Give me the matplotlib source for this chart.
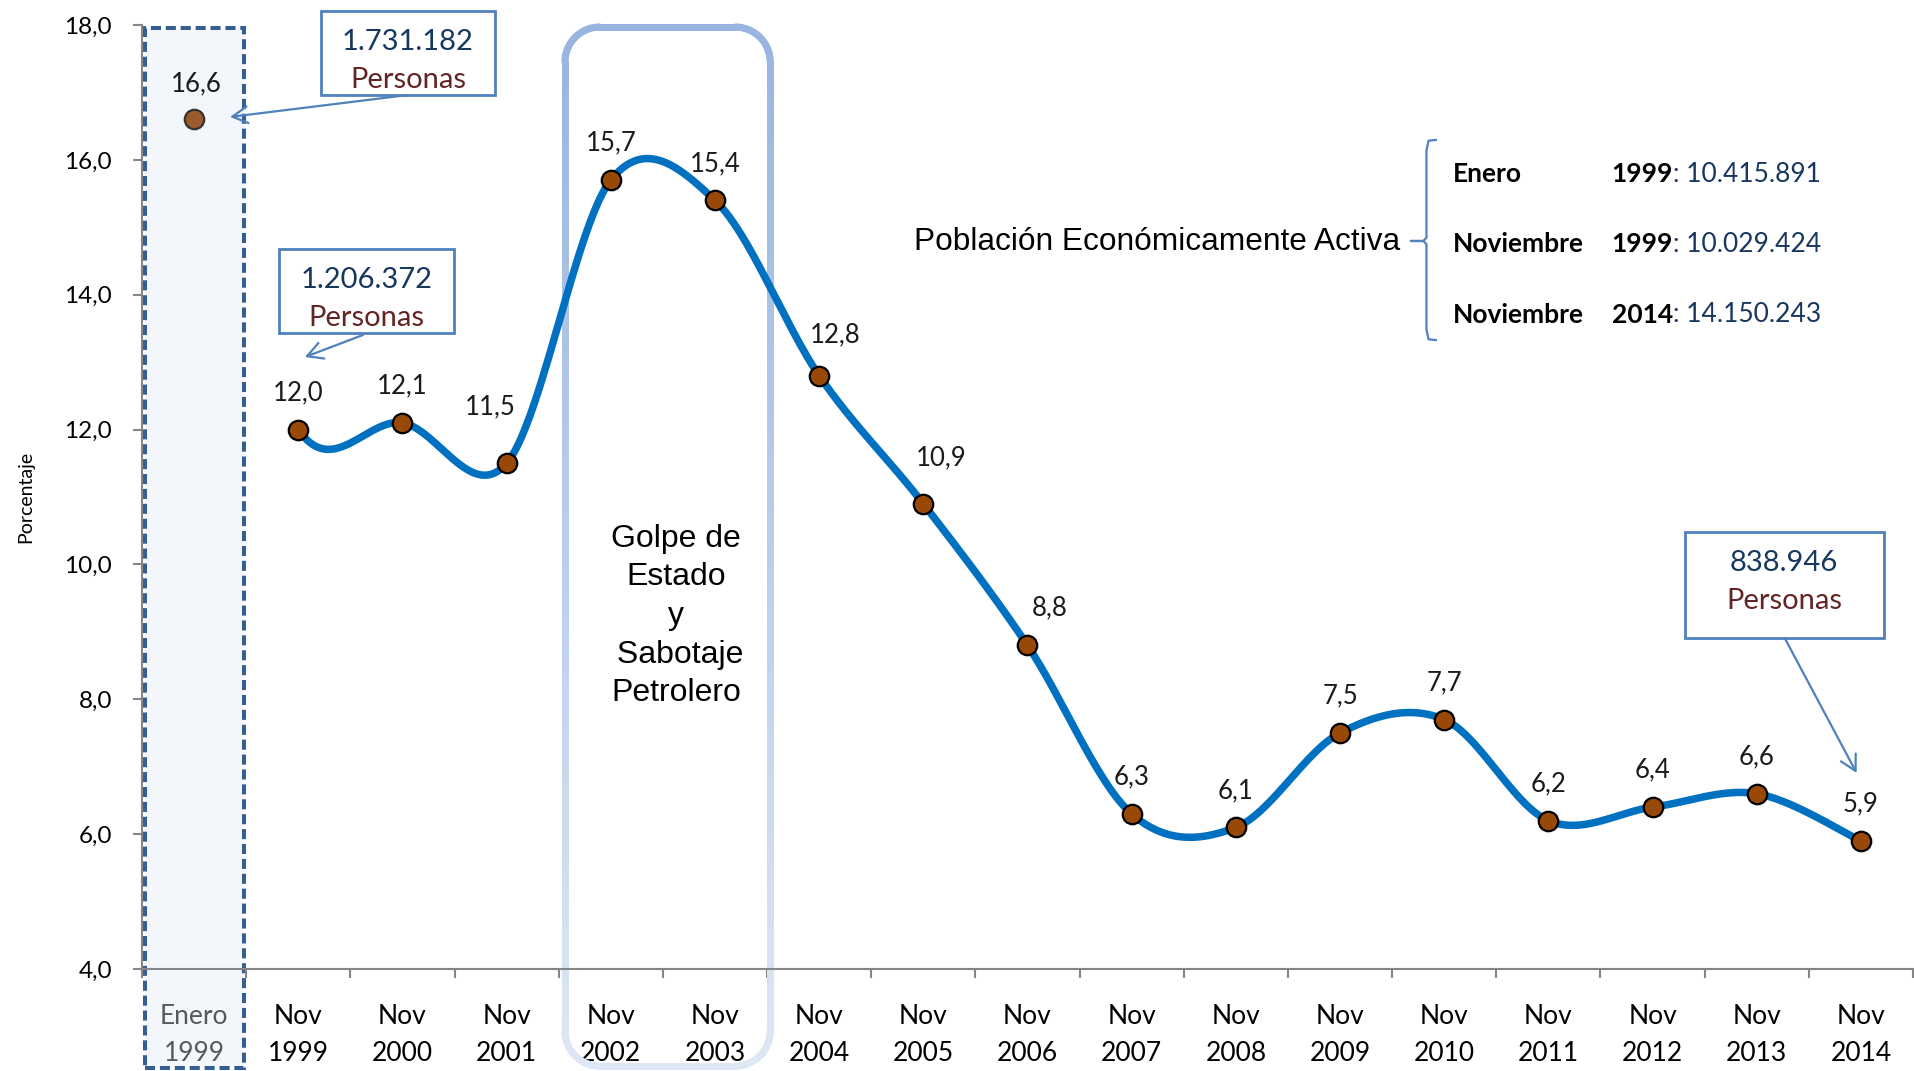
import numpy as np
import matplotlib
matplotlib.use("Agg")
import matplotlib.pyplot as plt
from matplotlib.patches import Rectangle, FancyArrowPatch
from matplotlib.collections import LineCollection
from matplotlib.colors import to_rgb

# ---------------- data ----------------
categories = ["Enero\n1999", "Nov\n1999", "Nov\n2000", "Nov\n2001", "Nov\n2002", "Nov\n2003",
              "Nov\n2004", "Nov\n2005", "Nov\n2006", "Nov\n2007", "Nov\n2008", "Nov\n2009",
              "Nov\n2010", "Nov\n2011", "Nov\n2012", "Nov\n2013", "Nov\n2014"]
values = [16.6, 12.0, 12.1, 11.5, 15.7, 15.4, 12.8, 10.9, 8.8, 6.3, 6.1, 7.5, 7.7, 6.2, 6.4, 6.6, 5.9]
yticks = [4, 6, 8, 10, 12, 14, 16, 18]
callout_numbers = ["1.731.182", "1.206.372", "838.946"]
callout_targets = [0, 1, 16]          # category index each callout points to
pea_months = ["Enero", "Noviembre", "Noviembre"]
pea_years = ["1999", "1999", "2014"]
pea_values = ["10.415.891", "10.029.424", "14.150.243"]
event_text = "Golpe de\nEstado\ny\n Sabotaje\nPetrolero"

# ---------------- figure ----------------
W, H = 1915, 1071
fig = plt.figure(figsize=(W / 100, H / 100), dpi=100)
ax = fig.add_axes([142 / W, 1 - 969 / H, 1771 / W, 944 / H])
n = len(categories)
ax.set_xlim(0, n)
ax.set_ylim(4, 18)
sx = n / 1771.0     # data units per pixel (x)
sy = 14 / 944.0     # data units per pixel (y)

FONT = "Lato"
gray = "#868686"
for s in ["top", "right"]:
    ax.spines[s].set_visible(False)
for s in ["left", "bottom"]:
    ax.spines[s].set_color(gray)
    ax.spines[s].set_linewidth(1.5)

ax.set_yticks(yticks)
ax.set_yticklabels([f"{v:.1f}".replace(".", ",") for v in yticks], fontfamily=FONT, fontsize=17.5)
ax.tick_params(axis="y", which="major", length=6.5, width=1.5, color=gray, pad=15)
ax.set_xticks(np.arange(0, n + 1))
ax.set_xticklabels([])
ax.tick_params(axis="x", which="major", length=6.5, width=1.5, color=gray)
ax.set_xticks(np.arange(n) + 0.5, minor=True)
ax.set_xticklabels(categories, minor=True, fontfamily=FONT, fontsize=19)
ax.tick_params(axis="x", which="minor", length=0, pad=25)
for i, lab in enumerate(ax.get_xticklabels(minor=True)):
    lab.set_linespacing(1.62)
    lab.set_color("#595959" if i == 0 else "black")

ax.set_ylabel("Porcentaje", fontfamily=FONT, fontsize=14)
ax.yaxis.set_label_coords(-108 / 1771, 0.5)

xc = np.arange(n) + 0.5

# dashed highlight of first category
rect = Rectangle((xc[0] - 0.47, 2.53), 0.95, 17.955 - 2.53, facecolor="#F3F6FB",
                 edgecolor="#365F91", lw=2.9, linestyle=(0, (2.5, 1.2)),
                 clip_on=False, zorder=1)
ax.add_patch(rect)

# rounded box with vertical gradient around Nov 2002 - Nov 2003
x0, x1 = xc[4] - 0.44, xc[5] + 0.53
yb, yt = 2.56, 17.97
r = 35
dx, dy = r * sx, r * sy
def arc(cx, cy, a0, a1):
    a = np.linspace(np.radians(a0), np.radians(a1), 30)
    return list(zip(cx + dx * np.cos(a), cy + dy * np.sin(a)))
def line(p, q, m=60):
    t = np.linspace(0, 1, m)
    return list(zip(p[0] + (q[0] - p[0]) * t, p[1] + (q[1] - p[1]) * t))
pts = []
pts += line((x0 + dx, yt), (x1 - dx, yt))
pts += arc(x1 - dx, yt - dy, 90, 0)
pts += line((x1, yt - dy), (x1, yb + dy), 200)
pts += arc(x1 - dx, yb + dy, 0, -90)
pts += line((x1 - dx, yb), (x0 + dx, yb))
pts += arc(x0 + dx, yb + dy, -90, -180)
pts += line((x0, yb + dy), (x0, yt - dy), 200)
pts += arc(x0 + dx, yt - dy, 180, 90)
pts = np.array(pts)
segs = np.stack([pts[:-1], pts[1:]], axis=1)
ym = segs[:, :, 1].mean(axis=1)
f = ((yt - ym) / (yt - yb))[:, None]
ctop, cbot = np.array(to_rgb("#98B4E0")), np.array(to_rgb("#DEE7F4"))
cols = ctop * (1 - f) + cbot * f
lc = LineCollection(segs, colors=cols, linewidths=5, capstyle="round", clip_on=False, zorder=2)
ax.add_collection(lc)
ax.text((x0 + x1) / 2 + 0.08, 9.235, event_text, ha="center", va="center", fontsize=23,
        fontfamily="Liberation Sans", linespacing=1.38, color="black", zorder=3)

# smoothed series (Excel-like smoothing; first segment hidden)
P = np.column_stack([xc, values])
curve = []
for i in range(1, n - 1):
    p0, p1, p2, p3 = P[max(i - 1, 0)], P[i], P[i + 1], P[min(i + 2, n - 1)]
    c1 = p1 + (p2 - p0) / 6
    c2 = p2 - (p3 - p1) / 6
    t = np.linspace(0, 1, 50)[:, None]
    seg = (1 - t) ** 3 * p1 + 3 * (1 - t) ** 2 * t * c1 + 3 * (1 - t) * t ** 2 * c2 + t ** 3 * p2
    curve.append(seg if i == 1 else seg[1:])
curve = np.vstack(curve)
ax.plot(curve[:, 0], curve[:, 1], color="#0070C0", lw=5.4, solid_capstyle="round", zorder=4)
ax.plot(xc[1:], values[1:], "o", ms=14, mfc="#984807", mec="black", mew=1.6, zorder=5)
ax.plot(xc[:1], values[:1], "o", ms=14, mfc="#9C5B2F", mec="#333333", mew=1.6, zorder=5)

# data labels
offsets = {0: (2, 36), 3: (-16, 56), 6: (16, 41), 7: (18, 46), 8: (22, 38)}
for i, v in enumerate(values):
    ox, oy = offsets.get(i, (0, 37))
    ax.annotate(f"{v:.1f}".replace(".", ","), (xc[i], v), xytext=(ox, oy),
                textcoords="offset pixels", ha="center", va="center", fontsize=18.5,
                fontfamily=FONT, color="#1a1a1a", zorder=6)

# callout boxes
bcol = "#4F81BD"
boxes = [  # (left, right, bottom, top) in data units, arrow start, arrow end offset from point
    ((1.718, 3.388, 16.962, 18.208), (2.553, 16.962), (0.345, 0.036)),
    ((1.315, 2.994, 13.432, 14.678), (2.121, 13.403), (0.064, 1.076)),
    ((14.808, 16.718, 8.909, 10.481), (15.768, 8.909), (-0.041, 1.007)),
]
for k, ((l, rr, b, t), start, off) in enumerate(boxes):
    ax.add_patch(Rectangle((l, b), rr - l, t - b, facecolor="white", edgecolor=bcol, lw=2,
                           clip_on=False, zorder=7))
    cx = (l + rr) / 2
    ax.text(cx, t - 31 * sy, callout_numbers[k], ha="center", va="center", fontsize=21,
            fontfamily=FONT, color="#17375E", zorder=8)
    ax.text(cx, t - 69 * sy, "Personas", ha="center", va="center", fontsize=21,
            fontfamily=FONT, color="#632523", zorder=8)
    j = callout_targets[k]
    end = (xc[j] + off[0], values[j] + off[1])
    ax.add_patch(FancyArrowPatch(start, end, arrowstyle="->,head_length=11,head_width=6",
                                 mutation_scale=1, color=bcol, lw=1.6, shrinkA=0, shrinkB=0,
                                 clip_on=False, zorder=7))

# PEA brace and text
bx, btip = 12.33, 12.18
btop, bbot, bmid = 16.265, 13.358, 14.797
h = 0.12
verts = [(bx + 0.09, btop + 0.03), (bx + 0.02, btop + 0.02), (bx, btop - h), (bx, bmid + 0.05),
         (bx - 0.03, bmid), (btip, bmid), (bx - 0.03, bmid), (bx, bmid - 0.05), (bx, bbot + h),
         (bx + 0.02, bbot - 0.02), (bx + 0.09, bbot - 0.03)]
ax.plot([v[0] for v in verts], [v[1] for v in verts], color=bcol, lw=1.6, zorder=6,
        solid_joinstyle="round", clip_on=False)
ax.text(12.08, 14.78, "Población Económicamente Activa", ha="right", va="center",
        fontsize=22.8, fontfamily="Liberation Sans", color="black")
rows_y = [15.79, 14.752, 13.70]
for k in range(3):
    ax.text(12.58, rows_y[k], pea_months[k], ha="left", va="center", fontsize=19,
            fontfamily=FONT, fontweight="bold", color="black")
    ax.text(14.694, rows_y[k], pea_years[k], ha="right", va="center", fontsize=19,
            fontfamily=FONT, fontweight="bold", color="black")
    ax.text(14.694, rows_y[k], ": " + pea_values[k], ha="left", va="center", fontsize=19,
            fontfamily=FONT, color="#17375E")

fig.savefig("out.png", dpi=100)
